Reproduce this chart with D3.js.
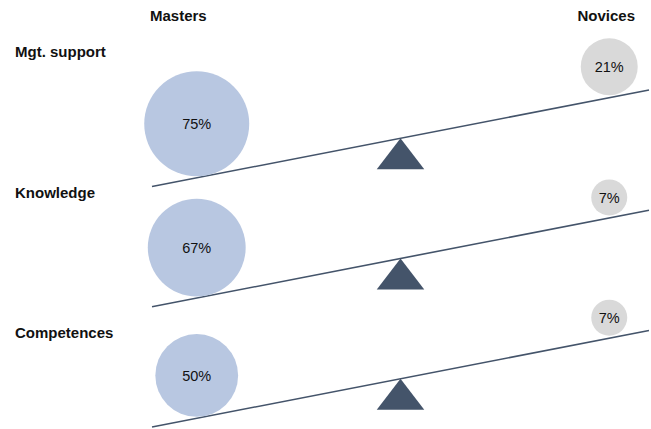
<!DOCTYPE html>
<html>
<head>
<meta charset="utf-8">
<script src="https://cdn.jsdelivr.net/npm/d3@7"></script>
<style>
  body { margin: 0; background: #fff; }
  text { font-family: "Liberation Sans", Arial, sans-serif; fill: #111; }
</style>
</head>
<body>
<div id="chart"></div>
<script>
// data
const categories = ['Mgt. support', 'Knowledge', 'Competences'];
const groups = ['Masters', 'Novices'];
const masters = [75, 67, 50];
const novices = [21, 7, 7];

// size options
const width = 651;
const height = 429;

// colours
const mastersColor = '#b8c7e1';
const novicesColor = '#d9d9d9';
const beamColor = '#44546a';

const svg = d3.select('#chart').append('svg')
  .attr('width', width)
  .attr('height', height);

// row placement
const labelY = d3.scalePoint().domain(categories).range([56.7, 338.3]);
const beamY = d3.scalePoint().domain(categories).range([186.5, 427]);

// position along the beam (0 = left end, 1 = right end)
const along = d3.scaleLinear().domain([0, 1]).range([152, 649]);
const tilt = d3.scaleLinear().domain([0, 1]).range([0, -96.5]);

// circle size from value
const r = d3.scaleLinear().domain([7, 21, 75]).range([18, 28.5, 52.5]);

const mastersPos = 0.09;
const novicesPos = 0.92;
const fulcrumPos = 0.5;
const triW = 47.5;
const triH = 31;

// column headers
svg.selectAll('.header')
  .data(groups)
  .enter().append('text')
  .attr('class', 'header')
  .attr('x', (d, i) => along(i === 0 ? 0.053 : 0.914))
  .attr('y', 21)
  .attr('text-anchor', 'middle')
  .style('font-size', '15px')
  .style('font-weight', 'bold')
  .text(d => d);

const rows = svg.selectAll('.row')
  .data(categories.map((c, i) => ({ cat: c, m: masters[i], n: novices[i] })))
  .enter().append('g')
  .attr('class', 'row');

// row labels
rows.append('text')
  .attr('x', 15)
  .attr('y', d => labelY(d.cat))
  .style('font-size', '15px')
  .style('font-weight', 'bold')
  .text(d => d.cat);

const yAt = (d, t) => beamY(d.cat) + tilt(t);

// fulcrum
rows.append('path')
  .attr('d', d => {
    const x = along(fulcrumPos), y = yAt(d, fulcrumPos);
    return `M${x},${y}L${x + triW / 2},${y + triH}L${x - triW / 2},${y + triH}Z`;
  })
  .attr('fill', beamColor);

// beam
rows.append('line')
  .attr('x1', along(0))
  .attr('y1', d => yAt(d, 0))
  .attr('x2', along(1))
  .attr('y2', d => yAt(d, 1))
  .attr('stroke', beamColor)
  .attr('stroke-width', 1.6);

// masters circle
rows.append('circle')
  .attr('cx', along(mastersPos))
  .attr('cy', d => yAt(d, mastersPos) - r(d.m) - 1.5)
  .attr('r', d => r(d.m))
  .attr('fill', mastersColor);

rows.append('text')
  .attr('x', along(mastersPos))
  .attr('y', d => yAt(d, mastersPos) - r(d.m) - 1.5)
  .attr('dy', '0.35em')
  .attr('text-anchor', 'middle')
  .style('font-size', '14.5px')
  .text(d => `${d.m}%`);

// novices circle
rows.append('circle')
  .attr('cx', along(novicesPos))
  .attr('cy', d => yAt(d, novicesPos) - r(d.n) - 2.5)
  .attr('r', d => r(d.n))
  .attr('fill', novicesColor);

rows.append('text')
  .attr('x', along(novicesPos))
  .attr('y', d => yAt(d, novicesPos) - r(d.n) - 2.5)
  .attr('dy', '0.35em')
  .attr('text-anchor', 'middle')
  .style('font-size', '14.5px')
  .text(d => `${d.n}%`);
</script>
</body>
</html>
